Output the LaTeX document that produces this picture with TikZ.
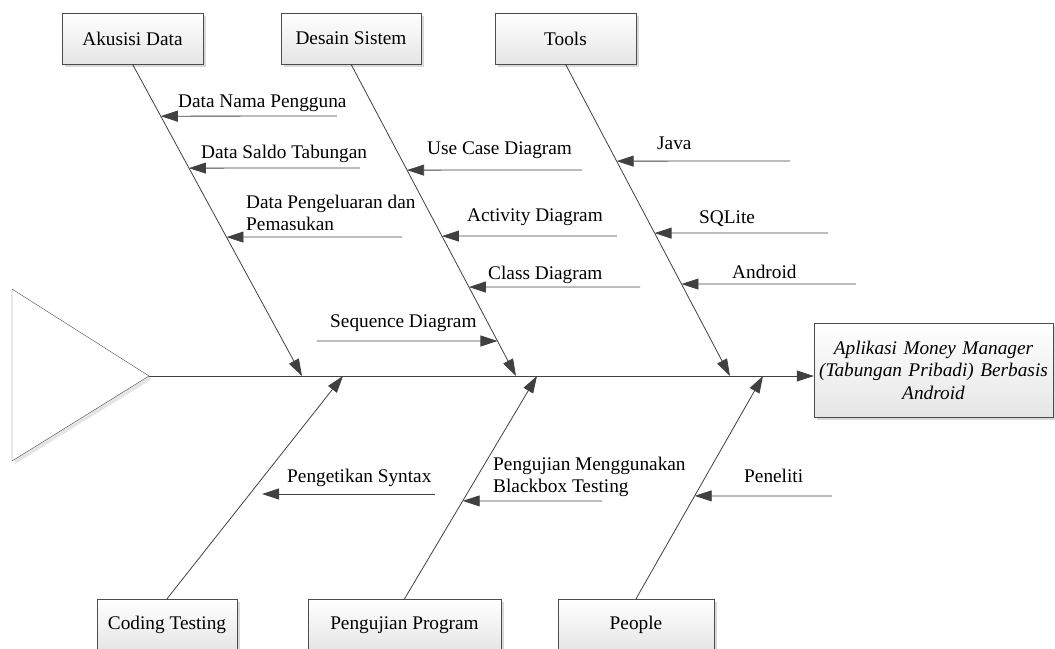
\documentclass[tikz,border=0pt]{standalone}
\usepackage{fontspec}
\setmainfont{Liberation Serif}
\usetikzlibrary{arrows.meta,shadows,positioning}

\begin{document}
\begin{tikzpicture}[x=1pt,y=-1pt,>={Triangle[length=17pt,width=11pt]},
    every node/.style={font=\fontsize{19.3}{22.5}\selectfont},
    cause/.style={draw=black!70,top color=white,bottom color=black!10,
        drop shadow={shadow xshift=3pt,shadow yshift=-3pt,fill=black!15,opacity=1},
        minimum height=51pt,inner sep=0pt},
    bone/.style={color=black!75,line width=0.8pt},
    lbl/.style={anchor=base west,inner sep=0pt}]

            \useasboundingbox (0,0) rectangle (1055,648);

            \node[cause,minimum width=141pt] (akusisi) at (132.5,38.5) {Akusisi Data};

            \node[cause,minimum width=140pt] (desain) at (351,38.5) {Desain Sistem};

            \node[cause,minimum width=141pt] (tools) at (565.5,38.5) {Tools};

            \node[cause,minimum width=140pt,minimum height=52pt] (coding) at (167,625) {Coding Testing};

            \node[cause,minimum width=193pt,minimum height=52pt] (pengujian) at (404.5,625) {Pengujian Program};

            \node[cause,minimum width=156pt,minimum height=52pt] (people) at (636,625) {People};

            \node[cause,minimum width=239pt,minimum height=94pt,text width=232pt,align=center,
                font=\fontsize{19.3}{22.5}\selectfont\itshape] (aplikasi) at (933.5,370)
                {Aplikasi Money Manager\\(Tabungan Pribadi) Berbasis\\Android};

            \draw[draw=black!70,fill=white,drop shadow={shadow xshift=3pt,shadow yshift=-3pt,fill=black!10,opacity=1}]
                (12,289) -- (149,376) coordinate (kepala) -- (12,461) -- cycle;

            \coordinate (t1) at (302,376);
            \coordinate (t2) at (516,376);
            \coordinate (t3) at (730,376);
            \coordinate (b1) at (343,376);
            \coordinate (b2) at (537,376);
            \coordinate (b3) at (763,376);

            \path[->,bone] (kepala) edge (kepala -| aplikasi.west);

            \draw[->,bone] (akusisi.south) -- coordinate[pos=.1667] (a1) coordinate[pos=.3333] (a2)
                coordinate[pos=.5545] (a3) (t1);
            \draw[->,bone] (desain.south) -- coordinate[pos=.3397] (d1) coordinate[pos=.5513] (d2)
                coordinate[pos=.7147] (d3) coordinate[pos=.8878] (d4) (t2);
            \draw[->,bone] (tools.south) -- coordinate[pos=.3109] (o1) coordinate[pos=.5417] (o2)
                coordinate[pos=.7051] (o3) (t3);
            \draw[->,bone] (coding.north) -- (b1);
            \draw[->,bone] (pengujian.north) -- coordinate[pos=.4395] (p1) (b2);
            \draw[->,bone] (people.north) -- coordinate[pos=.4619] (e1) (b3);

            \coordinate (ta1) at (337,116);
            \coordinate (ta2) at (360,168);
            \coordinate (ta3) at (402,237);
            \coordinate (td1) at (582,170);
            \coordinate (td2) at (617,236);
            \coordinate (td3) at (640,287);
            \coordinate (td4) at (317,341);
            \coordinate (to1) at (790,161);
            \coordinate (to2) at (828,233);
            \coordinate (to3) at (856,284);
            \coordinate (tc1) at (435,494);
            \coordinate (c1) at (262,494);
            \coordinate (tp1) at (602,501);
            \coordinate (te1) at (832,496);

            \path[->,bone] (ta1) edge (a1)
                           (ta2) edge (a2)
                           (ta3) edge (a3)
                           (td1) edge (d1)
                           (td2) edge (d2)
                           (td3) edge (d3)
                           (td4) edge (d4)
                           (to1) edge (o1)
                           (to2) edge (o2)
                           (to3) edge (o3)
                           (tc1) edge (c1)
                           (tp1) edge (p1)
                           (te1) edge (e1);

            \node[lbl] (la1) at (178,107) {Data Nama Pengguna};
            \node[lbl] (la2) at (201,158) {Data Saldo Tabungan};
            \node[lbl,anchor=west,align=left] (la3) at (246,213) {Data Pengeluaran dan\\Pemasukan};
            \node[lbl] (ld1) at (427,154) {Use Case Diagram};
            \node[lbl] (ld2) at (467,221) {Activity Diagram};
            \node[lbl] (ld3) at (488,279) {Class Diagram};
            \node[lbl] (ld4) at (330,327) {Sequence Diagram};
            \node[lbl] (lo1) at (657,149) {Java};
            \node[lbl] (lo2) at (699,223) {SQLite};
            \node[lbl] (lo3) at (732,278) {Android};
            \node[lbl] (lc1) at (287,482) {Pengetikan Syntax};
            \node[lbl,anchor=west,align=left] (lp1) at (493,477) {Pengujian Menggunakan\\Blackbox Testing};
            \node[lbl] (le1) at (744,482) {Peneliti};

        \end{tikzpicture}
\end{document}
